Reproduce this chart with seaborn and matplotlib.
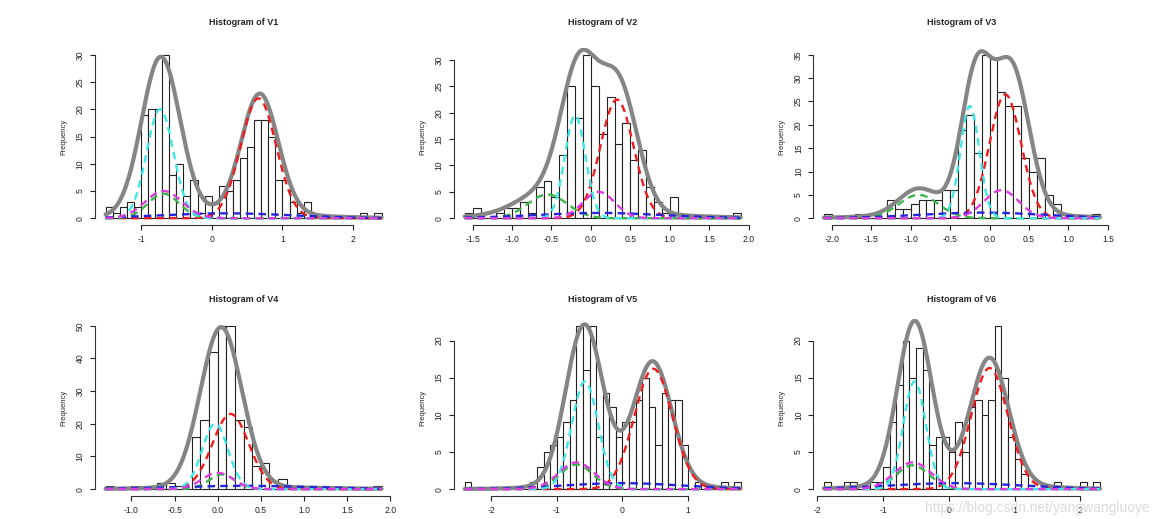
import numpy as np
import pandas as pd
import matplotlib
matplotlib.use("Agg")
import matplotlib.pyplot as plt
import seaborn as sns

# histogram counts, bins of width 0.1 starting at the first break
bin_width = 0.1

v1_start = -1.5
v1_counts = [2, 1, 2, 3, 2, 19, 20, 20, 30, 8, 10, 4, 7, 1, 4,
             3, 6, 5, 7, 11, 13, 18, 18, 15, 7, 7, 3, 1, 3, 0,
             0, 0, 0, 0, 0, 0, 1, 0, 1]
v2_start = -1.6
v2_counts = [1, 2, 0, 0, 1, 2, 2, 3, 1, 6, 7, 4, 12, 25, 19,
             31, 25, 16, 23, 14, 18, 11, 13, 6, 3, 1, 4, 0, 0, 0,
             0, 0, 0, 0, 1]
v3_start = -2.1
v3_counts = [1, 0, 0, 0, 1, 0, 0, 0, 4, 2, 2, 3, 4, 4, 4,
             6, 6, 19, 22, 14, 35, 34, 27, 24, 24, 13, 10, 13, 5, 3,
             0, 0, 0, 0, 1]
v4_start = -1.3
v4_counts = [1, 0, 0, 1, 0, 1, 2, 2, 1, 0, 16, 21, 42, 50, 50,
             21, 19, 7, 8, 0, 3, 0, 0, 0, 0, 0, 0, 0, 0, 0,
             0, 1]
v5_start = -2.4
v5_counts = [1, 0, 0, 0, 0, 0, 0, 0, 0, 0, 1, 3, 5, 6, 7, 9, 12, 22, 16, 22,
             7, 13, 11, 7, 9, 9, 12, 15, 11, 6, 13, 12, 12, 6, 0, 1, 0, 0, 0, 1,
             0, 1]
v6_start = -1.9
v6_counts = [1, 0, 0, 1, 1, 0, 0, 1, 1, 3, 9, 14, 20, 15, 19, 16, 6, 7, 7, 5,
             9, 5, 11, 12, 10, 12, 22, 15, 7, 4, 2, 0, 0, 0, 0, 1, 0, 0, 0, 1,
             0, 1]

# fitted densities in count units: (mean, sd, peak height)
v1_total = [(-0.72, 0.27, 29), (0.68, 0.26, 22), (0.2, 1.0, 1.0)]
v1_comps = {"red": (0.66, 0.25, 22), "green": (-0.68, 0.22, 4.5), "blue": (0.2, 0.9, 0.9),
            "cyan": (-0.73, 0.19, 20), "magenta": (-0.68, 0.26, 5)}
v2_total = [(-0.15, 0.23, 26), (0.35, 0.24, 24), (-0.6, 0.35, 4), (0.0, 1.0, 1.0)]
v2_comps = {"red": (0.33, 0.21, 22.5), "green": (-0.55, 0.25, 4.5), "blue": (0.1, 0.8, 1.0),
            "cyan": (-0.2, 0.13, 19.5), "magenta": (0.1, 0.2, 5)}
v3_total = [(-0.17, 0.19, 29.5), (0.28, 0.22, 31), (-0.9, 0.25, 5.5), (-0.2, 0.9, 1.2)]
v3_comps = {"red": (0.2, 0.2, 26.5), "green": (-0.9, 0.25, 5), "blue": (-0.1, 0.8, 1.2),
            "cyan": (-0.25, 0.12, 24), "magenta": (0.15, 0.22, 6)}
v4_total = [(0.04, 0.24, 49), (0.3, 0.9, 0.6)]
v4_comps = {"red": (0.15, 0.21, 23), "green": (0.05, 0.15, 4.5), "blue": (0.3, 0.8, 1.0),
            "cyan": (-0.03, 0.15, 20), "magenta": (0.0, 0.18, 5)}
v5_total = [(-0.58, 0.28, 21.5), (0.46, 0.29, 16.5), (0.0, 0.9, 0.8)]
v5_comps = {"red": (0.47, 0.29, 16.2), "green": (-0.7, 0.25, 3.3), "blue": (0.0, 0.9, 0.8),
            "cyan": (-0.57, 0.2, 14.5), "magenta": (-0.7, 0.27, 3.6)}
v6_total = [(-0.52, 0.26, 22), (0.62, 0.29, 17), (0.1, 1.0, 0.8)]
v6_comps = {"red": (0.62, 0.28, 16.3), "green": (-0.55, 0.25, 3.2), "blue": (0.1, 1.0, 0.8),
            "cyan": (-0.52, 0.17, 14.5), "magenta": (-0.55, 0.28, 3.6)}

v1_xticks = [-1, 0, 1, 2]
v2_xticks = [-1.5, -1.0, -0.5, 0.0, 0.5, 1.0, 1.5, 2.0]
v3_xticks = [-2.0, -1.5, -1.0, -0.5, 0.0, 0.5, 1.0, 1.5]
v4_xticks = [-1.0, -0.5, 0.0, 0.5, 1.0, 1.5, 2.0]
v5_xticks = [-2, -1, 0, 1]
v6_xticks = [-2, -1, 0, 1, 2]
v1_yticks = [0, 5, 10, 15, 20, 25, 30]
v2_yticks = [0, 5, 10, 15, 20, 25, 30]
v3_yticks = [0, 5, 10, 15, 20, 25, 30, 35]
v4_yticks = [0, 10, 20, 30, 40, 50]
v5_yticks = [0, 5, 10, 15, 20]
v6_yticks = [0, 5, 10, 15, 20]

line_colors = {"red": "#ee1c1c", "green": "#3cb44b", "blue": "#2424dc",
               "cyan": "#3ee6e6", "magenta": "#dc3cdc"}


def bump_curve(x, bumps):
    return sum(p * np.exp(-0.5 * ((x - m) / s) ** 2) for m, s, p in bumps)


def tick_text(vals):
    if any(t != int(t) for t in vals):
        return ["%.1f" % v for v in vals]
    return ["%d" % v for v in vals]


def plot_panel(ax, name, start, counts, total, comps, xticks, yticks, title_pad):
    edges = np.round(start + bin_width * np.arange(len(counts) + 1), 2)
    hist_df = pd.DataFrame({"x": (edges[:-1] + edges[1:]) / 2, "n": counts})
    sns.histplot(data=hist_df, x="x", weights="n", bins=list(edges), ax=ax, color="white",
                 edgecolor="#222222", linewidth=0.8, alpha=1)

    xs = np.linspace(edges[0], edges[-1], 400)
    sns.lineplot(x=xs, y=bump_curve(xs, total), ax=ax, color="#858585", linewidth=3.0)
    for key in ["red", "green", "blue", "cyan", "magenta"]:
        sns.lineplot(x=xs, y=bump_curve(xs, [comps[key]]), ax=ax, color=line_colors[key],
                     linewidth=1.7, linestyle=(0, (3.2, 2.2)))

    span = edges[-1] - edges[0]
    ymax = max(counts)
    ax.set_xlim(edges[0] - 0.04 * span, edges[-1] + 0.04 * span)
    ax.set_ylim(-0.04 * ymax, 1.04 * ymax)
    ax.set_xticks(xticks)
    ax.set_xticklabels(tick_text(xticks))
    ax.set_yticks(yticks)
    ax.set_yticklabels([str(t) for t in yticks], rotation=90, va="center")
    ax.tick_params(length=3.6, width=0.8, pad=3.5, labelsize=6.2, colors="#222222")
    ax.set_xlabel("")
    ax.set_ylabel("Frequency", fontsize=5.5, labelpad=6)
    ax.set_title("Histogram of " + name, fontsize=6.5, fontweight="bold", pad=title_pad)
    sns.despine(ax=ax, trim=True)
    for sp in ["left", "bottom"]:
        ax.spines[sp].set_color("#333333")
        ax.spines[sp].set_linewidth(0.8)


sns.set_style("ticks")
plt.rcParams["font.family"] = ["Liberation Sans", "DejaVu Sans"]

fig, axs = plt.subplots(2, 3, figsize=(11.67, 5.19), dpi=100)
fig.subplots_adjust(left=0.081, right=0.952, bottom=0.045, top=0.907, wspace=0.205, hspace=0.535)

panels = [
    ("V1", v1_start, v1_counts, v1_total, v1_comps, v1_xticks, v1_yticks, 17),
    ("V2", v2_start, v2_counts, v2_total, v2_comps, v2_xticks, v2_yticks, 17),
    ("V3", v3_start, v3_counts, v3_total, v3_comps, v3_xticks, v3_yticks, 17),
    ("V4", v4_start, v4_counts, v4_total, v4_comps, v4_xticks, v4_yticks, 12),
    ("V5", v5_start, v5_counts, v5_total, v5_comps, v5_xticks, v5_yticks, 12),
    ("V6", v6_start, v6_counts, v6_total, v6_comps, v6_xticks, v6_yticks, 12),
]
for ax, spec in zip(axs.flat, panels):
    plot_panel(ax, *spec)

# faint watermark, as in the reference screenshot
fig.text(0.985, 0.021, "https://blog.csdn.net/yangwangluoye", ha="right", va="center",
         fontsize=10, color="#d4d4d4", alpha=0.85)

fig.savefig("out.png", dpi=100)
